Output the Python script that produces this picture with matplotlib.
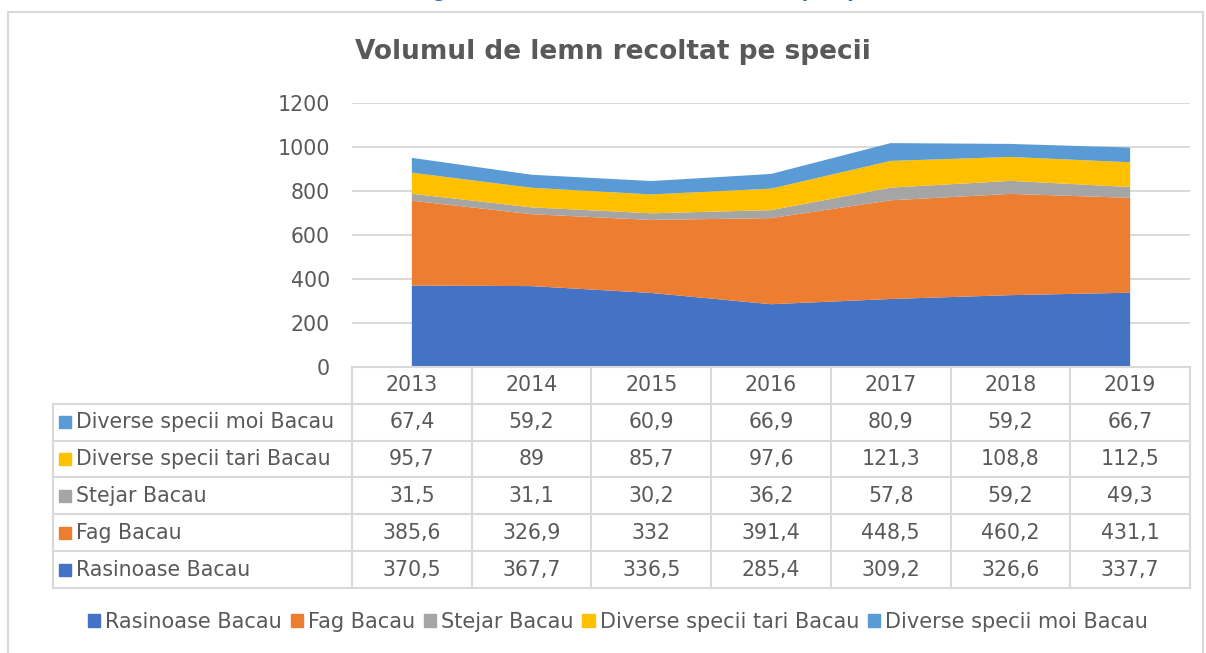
import numpy as np
import matplotlib.pyplot as plt
from matplotlib.patches import Rectangle

plt.rcParams['font.family'] = ['DejaVu Sans']

# harvested wood volume per species group, Bacau county
years = ['2013', '2014', '2015', '2016', '2017', '2018', '2019']
series_names = ['Rasinoase Bacau', 'Fag Bacau', 'Stejar Bacau',
                'Diverse specii tari Bacau', 'Diverse specii moi Bacau']
rasinoase = [370.5, 367.7, 336.5, 285.4, 309.2, 326.6, 337.7]
fag = [385.6, 326.9, 332, 391.4, 448.5, 460.2, 431.1]
stejar = [31.5, 31.1, 30.2, 36.2, 57.8, 59.2, 49.3]
tari = [95.7, 89, 85.7, 97.6, 121.3, 108.8, 112.5]
moi = [67.4, 59.2, 60.9, 66.9, 80.9, 59.2, 66.7]
y_ticks = [0, 200, 400, 600, 800, 1000, 1200]

colors = ['#4472C4', '#ED7D31', '#A5A5A5', '#FFC000', '#5B9BD5']
grid_c = '#D9D9D9'
text_c = '#595959'
fs = 14.8

W, H = 1206, 653
fig = plt.figure(figsize=(W / 100, H / 100), dpi=100)


def fx(px):
    return px / W


def fy(py):
    return 1 - py / H


def fmt(v):
    return f'{v:g}'.replace('.', ',')


# outer chart frame
fig.patches.append(Rectangle((fx(8), -0.1), fx(1203 - 8), fy(12) + 0.1,
                             transform=fig.transFigure, fill=False,
                             ec=grid_c, lw=1.5))

# caption line above the frame (mostly out of view)
fig.text(fx(413), 1 + 3 / H, 'Figura 1. Volumul de lemn recoltat pe specii',
         ha='left', va='baseline', color='#2E75B6', fontsize=14,
         weight='bold')

fig.text(fx(613), fy(52), 'Volumul de lemn recoltat pe specii',
         ha='center', va='center', fontsize=19, weight='bold', color=text_c)

# stacked area plot
top, bottom, left, right = 103, 367, 352, 1190
ax = fig.add_axes([fx(left), fy(bottom), fx(right - left), (bottom - top) / H])
x = np.arange(len(years)) + 0.5
series = [rasinoase, fag, stejar, tari, moi]
ax.stackplot(x, *series, colors=colors, lw=0, labels=series_names)
ax.set_xlim(0, len(years))
ax.set_ylim(0, 1200)
ax.set_yticks(y_ticks)
ax.set_xticks([])
ax.grid(axis='y', color=grid_c, lw=1.4)
ax.set_axisbelow(True)
for s in ax.spines.values():
    s.set_visible(False)
ax.tick_params(axis='y', length=0, pad=16, labelsize=fs, labelcolor=text_c)

# data table under the plot
tbl_left, tbl_bottom = 53, 588
ncol = len(years)
col_w = (right - left) / ncol
lab_w = (left - tbl_left) / col_w
tax = fig.add_axes([fx(tbl_left), fy(tbl_bottom), fx(right - tbl_left),
                    (tbl_bottom - bottom) / H])
nrow = len(series) + 1
tax.set_xlim(-lab_w, ncol)
tax.set_ylim(nrow, 0)
tax.axis('off')

lw = 1.5
tax.plot([0, ncol], [0, 0], color=grid_c, lw=lw, clip_on=False)
for r in range(1, nrow + 1):
    tax.plot([-lab_w, ncol], [r, r], color=grid_c, lw=lw, clip_on=False)
tax.plot([-lab_w, -lab_w], [1, nrow], color=grid_c, lw=lw, clip_on=False)
for c in range(ncol + 1):
    tax.plot([c, c], [0, nrow], color=grid_c, lw=lw, clip_on=False)

for c, yr in enumerate(years):
    tax.text(c + 0.5, 0.5, yr, ha='center', va='center', fontsize=fs,
             color=text_c)

rows = list(zip(series_names, series, colors))[::-1]
for r, (name, vals, col) in enumerate(rows, start=1):
    tax.plot(-lab_w + 0.1, r + 0.5, 's', color=col, ms=8.5, clip_on=False)
    tax.text(-lab_w + 0.19, r + 0.5, name, ha='left', va='center',
             fontsize=fs, color=text_c)
    for c, v in enumerate(vals):
        tax.text(c + 0.5, r + 0.5, fmt(v), ha='center', va='center',
                 fontsize=fs, color=text_c)

# legend below the table
handles = [Rectangle((0, 0), 1, 1, color=c) for c in colors]
fig.legend(handles, series_names, loc='center',
           bbox_to_anchor=(fx(618), fy(622)), ncol=5, frameon=False,
           fontsize=15, handlelength=0.6, handleheight=0.6,
           handletextpad=0.25, columnspacing=0.4, labelcolor=text_c)

fig.savefig('out.png', dpi=100)
